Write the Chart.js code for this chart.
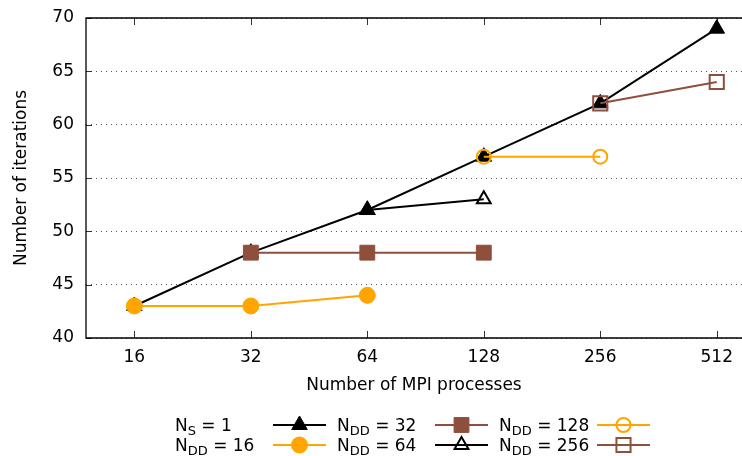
<!DOCTYPE html>
<html lang="en">

<head>
  <meta charset="UTF-8">
  <title>Number of iterations vs MPI processes</title>
  <script src="https://cdn.jsdelivr.net/npm/chart.js"></script>
  <style>
    body { margin: 0; background: #fff; }
    canvas { display: block; }
  </style>
</head>

<body>
  <canvas id="grafico" width="742" height="456"></canvas>

  <script>
    // x: number of MPI processes
    const procs = [16, 32, 64, 128, 256, 512];

    // iterations per series (null = no point)
    const ns1    = [43, 48, 52, 57, 62, 69];
    const ndd16  = [43, 43, 44, null, null, null];
    const ndd32  = [null, 48, 48, 48, null, null];
    const ndd64  = [null, null, 52, 53, null, null];
    const ndd128 = [null, null, null, 57, 57, null];
    const ndd256 = [null, null, null, null, 62, 64];

    // legend text: N + subscript + rest
    const legendSub = ['S', 'DD', 'DD', 'DD', 'DD', 'DD'];
    const legendRest = [' = 1', ' = 16', ' = 32', ' = 64', ' = 128', ' = 256'];

    const yTicks = [40, 45, 50, 55, 60, 65, 70];

    const BLACK = '#000000';
    const ORANGE = '#ffa500';
    const BROWN = '#8f4f3d';
    const FONT = "'DejaVu Sans', sans-serif";

    function serie(data, cor, estilo, raio, aberto, ordem) {
      return {
        data: data,
        borderColor: cor,
        backgroundColor: aberto ? 'rgba(0,0,0,0)' : cor,
        borderWidth: 2,
        pointStyle: estilo,
        pointRadius: raio,
        pointHoverRadius: raio,
        pointBorderWidth: aberto ? 2 : 1,
        pointBorderColor: cor,
        pointBackgroundColor: aberto ? 'rgba(0,0,0,0)' : cor,
        fill: false,
        tension: 0,
        clip: false,
        order: ordem
      };
    }

    const series = [
      serie(ns1, BLACK, 'triangle', 9, false, 6),
      serie(ndd16, ORANGE, 'circle', 8, false, 5),
      serie(ndd32, BROWN, 'rect', 10.5, false, 4),
      serie(ndd64, BLACK, 'triangle', 8, true, 3),
      serie(ndd128, ORANGE, 'circle', 7, true, 2),
      serie(ndd256, BROWN, 'rect', 10, true, 1)
    ];

    // frame, inward ticks
    const moldura = {
      id: 'moldura',
      beforeDatasetsDraw(chart) {
        const ctx = chart.ctx;
        const a = chart.chartArea;
        const x = chart.scales.x;
        const y = chart.scales.y;
        ctx.save();
        ctx.strokeStyle = '#333';
        ctx.lineWidth = 1;
        procs.forEach(p => {
          const px = Math.round(x.getPixelForValue(p)) + 0.5;
          ctx.beginPath();
          ctx.moveTo(px, a.bottom); ctx.lineTo(px, a.bottom - 7);
          ctx.moveTo(px, a.top); ctx.lineTo(px, a.top + 7);
          ctx.stroke();
        });
        yTicks.forEach(v => {
          const py = Math.round(y.getPixelForValue(v)) + 0.5;
          ctx.beginPath();
          ctx.moveTo(a.left, py); ctx.lineTo(a.left + 6, py);
          ctx.stroke();
        });
        ctx.strokeStyle = BLACK;
        ctx.lineWidth = 1.3;
        ctx.beginPath();
        ctx.moveTo(a.right, a.top);
        ctx.lineTo(a.left, a.top);
        ctx.lineTo(a.left, a.bottom);
        ctx.lineTo(a.right, a.bottom);
        ctx.stroke();
        ctx.restore();
      }
    };

    // gnuplot-style legend: text then sample, column-major
    const legenda = {
      id: 'legenda',
      afterDraw(chart) {
        const ctx = chart.ctx;
        ctx.save();
        series.forEach((s, i) => {
          const col = Math.floor(i / 2);
          const row = i % 2;
          const x0 = 175 + col * 162;
          const yc = 425 + row * 20;
          const base = yc + 6;
          ctx.fillStyle = BLACK;
          ctx.textBaseline = 'alphabetic';
          ctx.textAlign = 'left';
          ctx.font = '17px ' + FONT;
          ctx.fillText('N', x0, base);
          let xx = x0 + ctx.measureText('N').width;
          ctx.font = '13px ' + FONT;
          ctx.fillText(legendSub[i], xx, base + 4);
          xx += ctx.measureText(legendSub[i]).width;
          ctx.font = '17px ' + FONT;
          ctx.fillText(legendRest[i], xx, base);

          const l0 = x0 + 98, l1 = x0 + 151;
          ctx.strokeStyle = s.borderColor;
          ctx.lineWidth = 2;
          ctx.beginPath();
          ctx.moveTo(l0, yc); ctx.lineTo(l1, yc);
          ctx.stroke();
          ctx.fillStyle = s.pointBackgroundColor;
          ctx.lineWidth = s.pointBorderWidth;
          Chart.helpers.drawPoint(ctx, {
            pointStyle: s.pointStyle, radius: s.pointRadius,
            borderWidth: s.pointBorderWidth, rotation: 0
          }, (l0 + l1) / 2, yc);
        });
        ctx.restore();
      }
    };

    new Chart(document.getElementById('grafico'), {
      type: 'line',
      data: { labels: procs, datasets: series },
      options: {
        responsive: false,
        animation: false,
        layout: { autoPadding: false, padding: { top: 18, right: 0, bottom: 56, left: 0 } },
        plugins: { legend: { display: false }, tooltip: { enabled: false } },
        scales: {
          x: {
            type: 'logarithmic',
            min: 12,
            max: 595,
            afterBuildTicks: s => { s.ticks = procs.map(v => ({ value: v })); },
            afterFit: s => { s.height = 62; s.paddingLeft = 0; s.paddingRight = 0; },
            grid: { display: false, drawTicks: false },
            border: { display: false },
            ticks: {
              color: BLACK, padding: 9, maxRotation: 0, autoSkip: false,
              font: { family: FONT, size: 17 },
              callback: v => String(v)
            },
            title: {
              display: true, text: 'Number of MPI processes', color: BLACK,
              font: { family: FONT, size: 17 }, padding: { top: 4, bottom: 4 }
            }
          },
          y: {
            min: 40,
            max: 70,
            afterBuildTicks: s => { s.ticks = yTicks.map(v => ({ value: v })); },
            afterFit: s => { s.width = 86; s.paddingTop = 0; s.paddingBottom = 0; },
            grid: { color: '#555', lineWidth: 1, drawTicks: false },
            border: { display: false, dash: [1, 4] },
            ticks: { color: BLACK, padding: 12, font: { family: FONT, size: 17 } },
            title: {
              display: true, text: 'Number of iterations', color: BLACK,
              font: { family: FONT, size: 17 }, padding: { top: 11, bottom: 4 }
            }
          }
        }
      },
      plugins: [moldura, legenda]
    });
  </script>

</body>

</html>
